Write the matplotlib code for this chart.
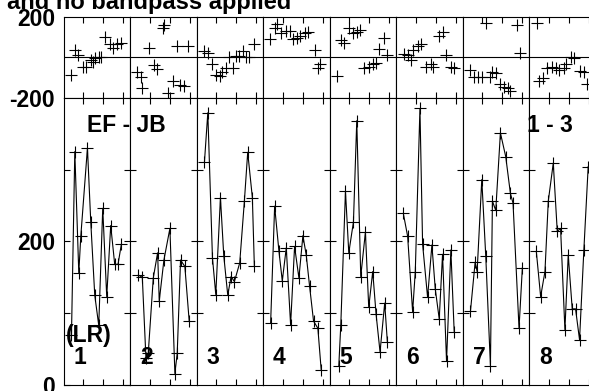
import matplotlib
matplotlib.use('Agg')
import matplotlib.pyplot as plt

plt.rcParams['font.family'] = ['Liberation Sans', 'DejaVu Sans']
plt.rcParams['font.weight'] = 'bold'

# amplitude (lower panel) and phase (upper panel) for the 8 groups
amp_x = [
    [1.2, 1.7, 2.3, 2.6, 3.6, 4.1, 4.7, 5.3, 5.9, 6.5, 7.1, 7.7, 8.2, 8.7],
    [1.25, 1.85, 2.4, 2.75, 3.5, 4.15, 4.4, 5.1, 6.0, 6.75, 7.1, 7.6, 8.25, 8.9],
    [1.2, 1.7, 2.4, 2.9, 3.6, 4.1, 4.7, 5.2, 5.7, 6.5, 7.2, 7.7, 8.4, 8.7],
    [1.15, 1.75, 2.4, 2.9, 3.5, 4.15, 4.75, 5.4, 6.0, 6.5, 7.0, 7.6, 8.25, 8.75],
    [1.4, 1.7, 2.4, 2.9, 3.6, 4.1, 4.7, 5.4, 5.9, 6.5, 7.0, 7.6, 8.3, 8.7],
    [1.1, 1.75, 2.5, 2.9, 3.6, 4.0, 4.75, 5.4, 5.9, 6.5, 7.0, 7.6, 8.25, 8.75],
    [1.2, 1.9, 2.2, 2.9, 3.5, 4.2, 4.5, 5.0, 5.7, 6.5, 7.2, 7.6, 8.5, 9.0],
    [1.1, 1.75, 2.4, 2.9, 3.65, 4.25, 4.75, 5.4, 5.9, 6.5, 7.0, 7.6, 8.25, 8.9],
]
amp_y = [
    [70, 325, 156, 207, 330, 227, 125, 83, 246, 123, 222, 168, 168, 196],
    [153, 150, 37, 45, 149, 184, 117, 174, 218, 16, 44, 174, 165, 89],
    [311, 379, 177, 126, 261, 180, 125, 151, 144, 170, 256, 324, 261, 165],
    [87, 249, 186, 145, 191, 84, 193, 149, 208, 181, 138, 89, 79, 21],
    [27, 84, 270, 184, 227, 368, 151, 213, 108, 158, 99, 46, 114, 60],
    [239, 207, 102, 158, 385, 196, 122, 195, 134, 92, 182, 33, 188, 74],
    [103, 171, 158, 286, 179, 27, 256, 243, 351, 318, 267, 253, 79, 163],
    [186, 123, 158, 256, 309, 214, 218, 77, 181, 106, 106, 63, 188, 304],
]
ph_x = [
    [1.2, 1.7, 2.2, 3.0, 3.4, 4.1, 4.5, 4.8, 5.4, 5.7, 6.2, 7.0, 7.5, 8.0, 8.7],
    [1.1, 1.65, 1.75, 2.9, 3.6, 4.0, 4.9, 5.15, 5.75, 6.5, 7.0, 7.5, 8.1, 8.75],
    [1.2, 1.7, 2.4, 3.0, 3.5, 3.9, 4.5, 4.9, 5.5, 6.0, 6.4, 7.0, 7.5, 7.9, 8.7],
    [1.0, 1.75, 2.1, 2.75, 3.4, 4.0, 4.5, 5.1, 5.6, 6.25, 6.75, 7.75, 8.25, 8.6],
    [1.2, 1.7, 2.2, 3.0, 3.6, 4.1, 4.6, 5.2, 5.9, 6.5, 7.0, 7.5, 8.2, 8.7],
    [1.25, 1.75, 2.25, 2.6, 3.25, 3.75, 4.5, 5.25, 5.6, 6.5, 7.0, 7.5, 8.25, 8.75],
    [1.2, 1.7, 2.4, 3.0, 3.5, 4.2, 4.5, 5.1, 5.6, 6.2, 6.9, 7.2, 8.2, 8.7],
    [1.25, 1.5, 2.1, 2.75, 3.4, 4.1, 4.5, 5.25, 5.6, 6.25, 6.75, 7.6, 8.25, 8.75],
]
ph_y = [
    [-87, 36, 11, -46, -46, -13, -22, -2, 3, 3, 102, 64, 44, 64, 69],
    [-74, -100, -150, 44, -38, -58, 146, 160, -178, -120, 56, -137, -140, 56],
    [31, 21, -35, -87, -94, -74, -54, 3, -54, 4, 6, 31, 3, 0, 64],
    [90, 146, 163, 119, 130, 130, 90, 95, 107, 120, 124, 36, -51, -35],
    [-92, 85, 70, 146, 119, 124, 136, -51, -46, -35, -30, 40, 97, 12],
    [15, 11, -13, 36, 54, 64, -46, -35, -46, 107, 124, 11, -46, -51],
    [-63, -99, -99, -99, 168, -99, -74, -79, -133, -145, -153, -166, 160, 20],
    [168, -120, -102, -54, -46, -51, -63, -51, -35, 3, -2, -69, -74, -133],
]
group_names = ['1', '2', '3', '4', '5', '6', '7', '8']

W, H = 589.0, 391.0
fig = plt.figure(figsize=(W/100, H/100), dpi=100)

x0 = 63.5
gw = 66.5
top_y0, top_y1 = 16.7, 97.7
bot_y0, bot_y1 = 97.7, 385.0
fs = 16.5

def px(x, y):
    return x/W, 1 - y/H

for k in range(8):
    left = (x0 + k*gw)/W
    # upper panel: phase
    ax = fig.add_axes([left, 1 - top_y1/H, gw/W, (top_y1 - top_y0)/H])
    ax.plot(ph_x[k], ph_y[k], '+', color='black', ms=8, mew=0.8)
    ax.axhline(0, color='black', lw=0.8)
    ax.set_xlim(0, 10)
    ax.set_ylim(-200, 200)
    ax.set_xticks([3, 6, 9])
    ax.set_xticklabels([])
    ax.tick_params(axis='x', direction='in', top=True, bottom=True, length=4, width=0.8)
    if k == 0:
        ax.set_yticks([-200, 200])
        ax.set_yticklabels(['-200', '200'], fontsize=fs, fontweight='bold')
        ax.tick_params(axis='y', length=0, pad=6)
    else:
        ax.set_yticks([])
    for s in ax.spines.values():
        s.set_linewidth(0.8)

    # lower panel: amplitude
    ax = fig.add_axes([left, 1 - bot_y1/H, gw/W, (bot_y1 - bot_y0)/H])
    ax.plot(amp_x[k], amp_y[k], '-', color='black', lw=0.8,
            marker='+', ms=8, mew=0.8)
    ax.set_xlim(0, 10)
    ax.set_ylim(0, 400)
    ax.set_xticks([3, 6, 9])
    ax.set_xticklabels([])
    ax.tick_params(axis='x', direction='in', top=True, bottom=True, length=4, width=0.8)
    ax.set_yticks([100, 200, 300])
    ax.tick_params(axis='y', direction='in', left=True, right=True, length=4.5, width=0.8)
    if k == 0:
        ax.set_yticks([0, 100, 200, 300])
        ax.set_yticklabels(['0', '', '200', ''], fontsize=fs, fontweight='bold')
        ax.tick_params(axis='y', pad=6)
    else:
        ax.set_yticklabels([])
    for s in ax.spines.values():
        s.set_linewidth(0.8)

    fig.text(*px(x0 + k*gw + 10, 364), group_names[k], fontsize=fs,
             fontweight='bold', va='baseline', ha='left')

fig.text(*px(66, 341.7), '(LR)', fontsize=fs, fontweight='bold', va='baseline')
fig.text(*px(87, 131.7), 'EF - JB', fontsize=fs, fontweight='bold', va='baseline')
fig.text(*px(527, 131.7), '1 - 3', fontsize=fs, fontweight='bold', va='baseline')
fig.text(*px(291, 9.0), 'Original and no bandpass applied', fontsize=17,
         fontweight='bold', va='baseline', ha='right')

fig.savefig('out.png', dpi=100)
